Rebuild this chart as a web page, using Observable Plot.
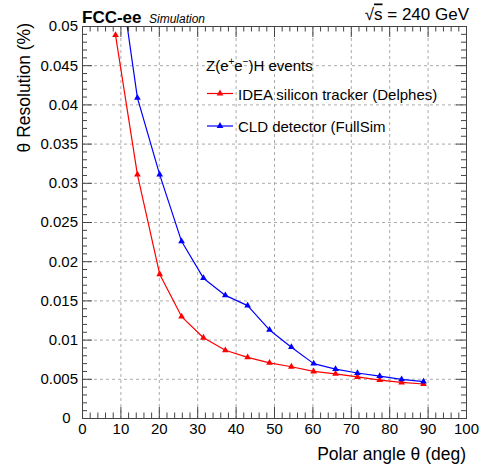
<!DOCTYPE html>
<html><head><meta charset="utf-8">
<script src="https://cdn.jsdelivr.net/npm/d3@7"></script>
<script src="https://cdn.jsdelivr.net/npm/@observablehq/plot@0.6"></script>
<style>
body{margin:0;background:#fff;}
#chart{width:481px;height:466px;}
</style></head><body><div id="chart"></div>
<script>
// ---- data ----
const angles  = [8.6, 14.3, 20.1, 25.8, 31.5, 37.2, 43.0, 48.7, 54.4, 60.2, 65.9, 71.6, 77.4, 83.1, 88.8];
const ideaRes = [0.0489, 0.0311, 0.0184, 0.0130, 0.0103, 0.0087, 0.0078, 0.0071, 0.0066, 0.0060, 0.0057, 0.0053, 0.0049, 0.0046, 0.0044];
const cldRes  = [0.0605, 0.0409, 0.0311, 0.0226, 0.0179, 0.0157, 0.0144, 0.0113, 0.0091, 0.0070, 0.0063, 0.0058, 0.0054, 0.0050, 0.0047];
const seriesNames  = ["IDEA silicon tracker (Delphes)", "CLD detector (FullSim"];
const seriesColors = ["#ff0000", "#0000ff"];
const xTicks = [0, 10, 20, 30, 40, 50, 60, 70, 80, 90, 100];
const yTicks = [0, 0.005, 0.01, 0.015, 0.02, 0.025, 0.03, 0.035, 0.04, 0.045, 0.05];
const headerLeft = "FCC-ee";
const headerSub = "Simulation";
const energyText = "= 240 GeV";
const xTitle = "Polar angle θ (deg)";
const yTitle = "θ Resolution (%)";

const rows = [];
angles.forEach((a, i) => rows.push({angle: a, res: ideaRes[i], series: seriesNames[0]}));
angles.forEach((a, i) => rows.push({angle: a, res: cldRes[i], series: seriesNames[1]}));

const xMinor = d3.range(0, 101, 2).filter(d => d % 10 !== 0);
const yMinor = d3.range(0, 51).filter(i => i % 5 !== 0).map(i => i / 1000);

const W = 481, H = 466, ML = 82, MR = 15, MT = 26, MB = 48;
const FW = W - ML - MR, FH = H - MT - MB;
const FONT = '"Liberation Sans", Arial, Helvetica, sans-serif';
const axisColor = "#444";
const tickStyle = {stroke: axisColor, strokeWidth: 1, strokeOpacity: 1};
const gridStyle = {stroke: "#aaa", strokeOpacity: 1, strokeDasharray: "3,3", strokeWidth: 1};

const plot = Plot.plot({
  width: W,
  height: H,
  marginLeft: ML,
  marginRight: MR,
  marginTop: MT,
  marginBottom: MB,
  style: {fontFamily: FONT, fontSize: "15px", color: "#000", background: "#fff"},
  x: {domain: [0, 100]},
  y: {domain: [0, 0.05]},
  color: {domain: seriesNames, range: seriesColors},
  marks: [
    Plot.gridX(xTicks.filter(d => d > 0 && d < 100), gridStyle),
    Plot.gridY(yTicks.filter(d => d > 0 && d < 0.05), gridStyle),
    Plot.line(rows, {x: "angle", y: "res", z: "series", stroke: "series", strokeWidth: 1.2, clip: true}),
    Plot.dot(rows, {x: "angle", y: "res", fill: "series", symbol: "triangle", r: 2.5, clip: true}),
    // inward ticks: bottom / top
    Plot.tickX(xTicks, {x: d => d, insetTop: FH - 11, ...tickStyle}),
    Plot.tickX(xMinor, {x: d => d, insetTop: FH - 5.5, ...tickStyle}),
    Plot.tickX(xTicks, {x: d => d, insetBottom: FH - 11, ...tickStyle}),
    Plot.tickX(xMinor, {x: d => d, insetBottom: FH - 5.5, ...tickStyle}),
    // inward ticks: left / right
    Plot.tickY(yTicks, {y: d => d, insetRight: FW - 10, ...tickStyle}),
    Plot.tickY(yMinor, {y: d => d, insetRight: FW - 5, ...tickStyle}),
    Plot.tickY(yTicks, {y: d => d, insetLeft: FW - 10, ...tickStyle}),
    Plot.tickY(yMinor, {y: d => d, insetLeft: FW - 5, ...tickStyle}),
    Plot.frame({stroke: axisColor, strokeWidth: 1}),
    Plot.axisX({ticks: xTicks, tickSize: 0, tickPadding: 5, label: null, tickFormat: d => String(d), fill: "#000"}),
    Plot.axisY({ticks: yTicks.filter(d => d > 0), tickSize: 0, tickPadding: 4.5, label: null, tickFormat: d => String(d), fill: "#000"}),
    Plot.axisY({ticks: [0], tickSize: 0, tickPadding: 12, label: null, tickFormat: d => String(d), fill: "#000"})
  ]
});
document.getElementById("chart").appendChild(plot);

// ---- annotations: header, titles, legend ----
const svg = d3.select(plot);
const g = svg.append("g").attr("font-family", FONT).attr("fill", "#000").attr("text-anchor", "start");

g.append("text").attr("x", 82).attr("y", 22.5).attr("font-size", 17).attr("font-weight", "bold").text(headerLeft);
g.append("text").attr("x", 149).attr("y", 22.5).attr("font-size", 12).attr("font-style", "italic").text(headerSub);

const en = g.append("text").attr("x", 469).attr("y", 19.5).attr("font-size", 17).attr("text-anchor", "end");
en.append("tspan").text("√");
en.append("tspan").attr("text-decoration", "overline").text("s");
en.append("tspan").text(" " + energyText);

g.append("text").attr("x", 466).attr("y", 459.5).attr("font-size", 17.5).attr("text-anchor", "end").text(xTitle);
g.append("text").attr("transform", "translate(30,23) rotate(-90)").attr("font-size", 17.5).attr("text-anchor", "end").text(yTitle);

// legend
const lg = g.append("g").attr("font-size", 15);
const zt = lg.append("text").attr("x", 206).attr("y", 70.7);
zt.append("tspan").text("Z(e");
zt.append("tspan").attr("font-size", 10).attr("dy", -6).text("+");
zt.append("tspan").attr("dy", 6).text("e");
zt.append("tspan").attr("font-size", 10).attr("dy", -6).text("−");
zt.append("tspan").attr("dy", 6).text(")H events");

const legendRows = [{y: 93.5, base: 100.2}, {y: 126, base: 131.7}];
seriesNames.forEach((name, i) => {
  const r = legendRows[i];
  lg.append("line").attr("x1", 207).attr("x2", 233).attr("y1", r.y).attr("y2", r.y)
    .attr("stroke", seriesColors[i]).attr("stroke-width", 1.2);
  lg.append("path").attr("transform", `translate(220,${r.y})`)
    .attr("d", d3.symbol(d3.symbolTriangle, Math.PI * 2.5 * 2.5)()).attr("fill", seriesColors[i]);
  lg.append("text").attr("x", 238).attr("y", r.base).text(name);
});
</script>
</body></html>
